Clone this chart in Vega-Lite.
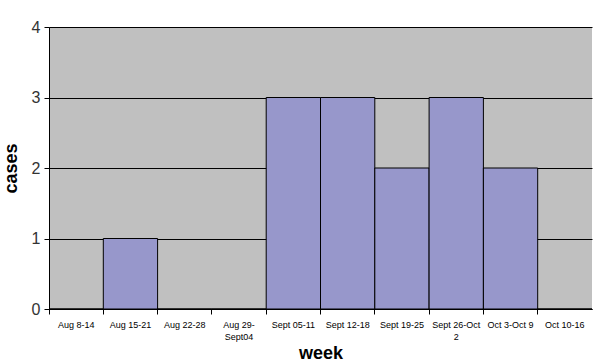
{
  "$schema": "https://vega.github.io/schema/vega-lite/v6.json",
  "autosize": "none",
  "padding": {"left": 49, "top": 27, "right": 8, "bottom": 54},
  "width": 543,
  "height": 282,
  "background": "white",
  "config": {
    "view": {"fill": "#C0C0C0", "stroke": null},
    "font": "Liberation Sans"
  },
  "data": {
    "values": [
      {"week": "Aug 8-14", "cases": 0},
      {"week": "Aug 15-21", "cases": 1},
      {"week": "Aug 22-28", "cases": 0},
      {"week": "Aug 29-Sept04", "cases": 0},
      {"week": "Sept 05-11", "cases": 3},
      {"week": "Sept 12-18", "cases": 3},
      {"week": "Sept 19-25", "cases": 2},
      {"week": "Sept 26-Oct 2", "cases": 3},
      {"week": "Oct 3-Oct 9", "cases": 2},
      {"week": "Oct 10-16", "cases": 0}
    ]
  },
  "mark": {"type": "bar", "fill": "#9797CB", "stroke": "#000000", "strokeWidth": 1},
  "encoding": {
    "x": {
      "field": "week",
      "type": "nominal",
      "sort": null,
      "scale": {"paddingInner": 0, "paddingOuter": 0},
      "axis": {
        "title": "week",
        "titleFont": "Liberation Sans",
        "titleFontSize": 18,
        "titleFontWeight": "bold",
        "titleColor": "#000000",
        "titlePadding": 3,
        "labelAngle": 0,
        "labelFontSize": 9,
        "labelColor": "#000000",
        "labelPadding": 6,
        "labelLineHeight": 12,
        "labelExpr": "datum.value == 'Aug 29-Sept04' ? ['Aug 29-', 'Sept04'] : datum.value == 'Sept 26-Oct 2' ? ['Sept 26-Oct', '2'] : datum.value",
        "bandPosition": 0,
        "ticks": true,
        "tickSize": 5,
        "tickColor": "#000000",
        "domainColor": "#000000",
        "labelBound": false,
        "labelOverlap": false,
        "grid": false
      }
    },
    "y": {
      "field": "cases",
      "type": "quantitative",
      "scale": {"domain": [0, 4]},
      "axis": {
        "title": "cases",
        "titleFont": "Liberation Sans",
        "titleFontSize": 18,
        "titleFontWeight": "bold",
        "titleColor": "#000000",
        "titlePadding": 11,
        "values": [0, 1, 2, 3, 4],
        "labelFontSize": 16,
        "labelColor": "#333333",
        "labelPadding": 4,
        "tickSize": 5,
        "tickColor": "#000000",
        "domainColor": "#000000",
        "grid": true,
        "gridColor": "#000000",
        "gridWidth": 1,
        "gridOpacity": 1
      }
    }
  }
}
